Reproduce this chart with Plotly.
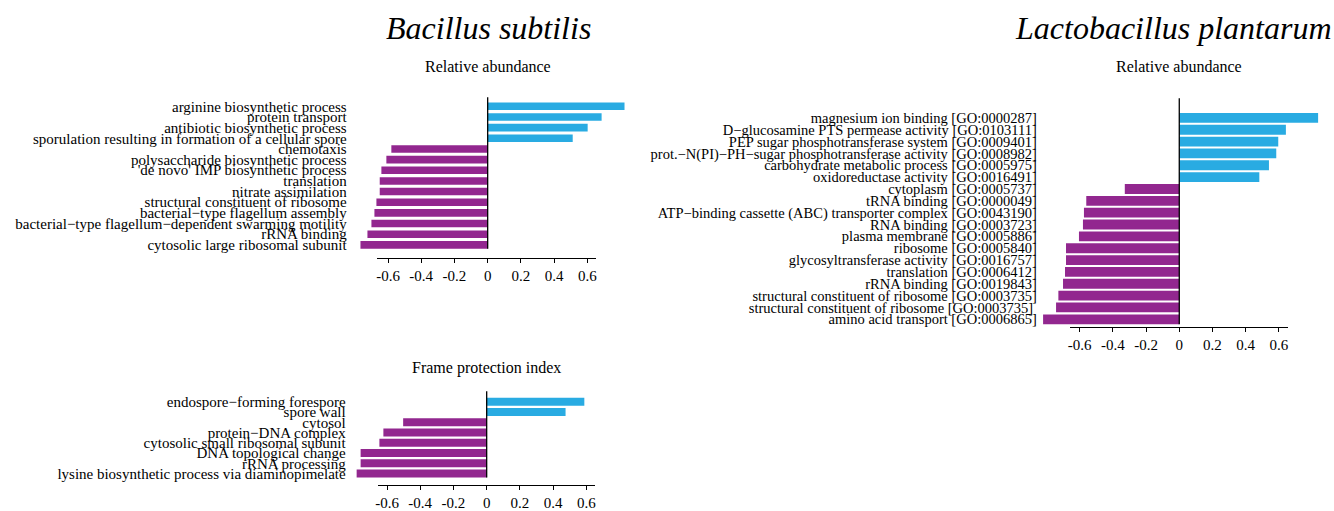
import plotly.graph_objects as go

W, H = 1334, 511

# ---- data ----
bs_abund_terms = [
    "arginine biosynthetic process",
    "protein transport",
    "antibiotic biosynthetic process",
    "sporulation resulting in formation of a cellular spore",
    "chemotaxis",
    "polysaccharide biosynthetic process",
    "'de novo' IMP biosynthetic process",
    "translation",
    "nitrate assimilation",
    "structural constituent of ribosome",
    "bacterial−type flagellum assembly",
    "bacterial−type flagellum−dependent swarming motility",
    "rRNA binding",
    "cytosolic large ribosomal subunit",
]
bs_abund_values = [0.824, 0.686, 0.602, 0.512, -0.58, -0.61, -0.64, -0.65, -0.65,
                   -0.67, -0.682, -0.70, -0.724, -0.766]

bs_fpi_terms = [
    "endospore−forming forespore",
    "spore wall",
    "cytosol",
    "protein−DNA complex",
    "cytosolic small ribosomal subunit",
    "DNA topological change",
    "rRNA processing",
    "lysine biosynthetic process via diaminopimelate",
]
bs_fpi_values = [0.588, 0.475, -0.503, -0.622, -0.646, -0.759, -0.759, -0.783]

lp_abund_terms = [
    "magnesium ion binding [GO:0000287]",
    "D−glucosamine PTS permease activity [GO:0103111]",
    "PEP sugar phosphotransferase system [GO:0009401]",
    "prot.−N(PI)−PH−sugar phosphotransferase activity [GO:0008982]",
    "carbohydrate metabolic process [GO:0005975]",
    "oxidoreductase activity [GO:0016491]",
    "cytoplasm [GO:0005737]",
    "tRNA binding [GO:0000049]",
    "ATP−binding cassette (ABC) transporter complex [GO:0043190]",
    "RNA binding [GO:0003723]",
    "plasma membrane [GO:0005886]",
    "ribosome [GO:0005840]",
    "glycosyltransferase activity [GO:0016757]",
    "translation [GO:0006412]",
    "rRNA binding [GO:0019843]",
    "structural constituent of ribosome [GO:0003735]",
    "structural constituent of ribosome [GO:0003735] ",
    "amino acid transport [GO:0006865]",
]
lp_abund_values = [0.836, 0.642, 0.596, 0.584, 0.54, 0.482, -0.328, -0.56, -0.574,
                   -0.58, -0.604, -0.682, -0.682, -0.688, -0.70, -0.728, -0.742, -0.82]

tick_vals = [-0.6, -0.4, -0.2, 0, 0.2, 0.4, 0.6]
tick_text = ["-0.6", "-0.4", "-0.2", "0", "0.2", "0.4", "0.6"]

POS = "#29ABE2"
NEG = "#92278F"
FONT = "Liberation Serif"
UNIT = 166.7  # px per unit on the value axis

fig = go.Figure()

# panel layout in pixels
panels = [
    dict(terms=bs_abund_terms, vals=bs_abund_values, x0=486.5, xmin=-0.831, xmax=0.87,
         c0=108.2, pitch=10.85, top=95, bottom=262.5, zl_top=99, gap=0.29,
         line=(-0.664, 0.65), title="Relative abundance", title_y=68, fs=15),
    dict(terms=bs_fpi_terms, vals=bs_fpi_values, x0=485.5, xmin=-0.831, xmax=0.87,
         c0=409, pitch=10.43, top=395, bottom=493.3, zl_top=398.3, gap=0.23,
         line=(-0.652, 0.654), title="Frame protection index", title_y=375, fs=15),
    dict(terms=lp_abund_terms, vals=lp_abund_values, x0=1180.7, xmin=-0.84, xmax=0.88,
         c0=120, pitch=12.06, top=95, bottom=333.3, zl_top=100, gap=0.17,
         line=(-0.66, 0.652), title="Relative abundance", title_y=68, fs=14.5),
]

for k, p in enumerate(panels):
    i = k + 1
    xa = "x" if i == 1 else f"x{i}"
    ya = "y" if i == 1 else f"y{i}"
    xo = f"x{i + 3}"  # overlay axis carrying the visible line + ticks
    n = len(p["terms"])

    def px2frac(px):
        return px / W

    left = p["x0"] + p["xmin"] * UNIT
    right = p["x0"] + p["xmax"] * UNIT
    lo_px = p["x0"] + p["line"][0] * UNIT
    hi_px = p["x0"] + p["line"][1] * UNIT

    fig.add_trace(go.Bar(
        x=p["vals"], y=p["terms"], orientation="h", width=1 - p["gap"],
        marker=dict(color=[POS if v > 0 else NEG for v in p["vals"]], line=dict(width=0)),
        xaxis=xa, yaxis=ya, showlegend=False, hoverinfo="x+y",
    ))

    yr = [(p["bottom"] - p["c0"]) / p["pitch"], (p["top"] - p["c0"]) / p["pitch"]]
    fig.layout[f"yaxis{i if i > 1 else ''}"] = dict(
        domain=[1 - p["bottom"] / H, 1 - p["top"] / H],
        range=yr, type="category", categoryorder="array", categoryarray=p["terms"],
        tickmode="linear", tick0=0, dtick=1,
        anchor=xa, showline=False, showgrid=False, zeroline=False, ticks="",
        ticklabelstandoff=2,
        tickfont=dict(family=FONT, size=p["fs"], color="#000"),
    )
    fig.layout[f"xaxis{i if i > 1 else ''}"] = dict(
        domain=[px2frac(left), px2frac(right)], range=[p["xmin"], p["xmax"]],
        anchor=ya, visible=False, showgrid=False, zeroline=False,
    )
    fig.layout[f"xaxis{i + 3}"] = dict(
        domain=[px2frac(lo_px), px2frac(hi_px)], range=list(p["line"]),
        anchor=ya, showline=True, linecolor="#000", linewidth=1,
        ticks="outside", ticklen=4, tickcolor="#000", tickwidth=1,
        tickvals=tick_vals, ticktext=tick_text, showgrid=False, zeroline=False,
        tickfont=dict(family=FONT, size=15, color="#000"),
    )
    # invisible carrier so the overlay axis is drawn
    fig.add_trace(go.Scatter(x=[0], y=[p["terms"][0]], xaxis=xo, yaxis=ya,
                             mode="markers", marker=dict(opacity=0),
                             showlegend=False, hoverinfo="skip"))

    # vertical zero line
    half = (1 - p["gap"]) / 2
    fig.add_shape(type="line", xref=xa, yref=ya, x0=0, x1=0,
                  y0=(p["zl_top"] - p["c0"]) / p["pitch"], y1=n - 1 + half,
                  line=dict(color="#000", width=1.3))

    fig.add_annotation(text=p["title"], xref="paper", yref="paper",
                       x=px2frac(p["x0"]), y=1 - p["title_y"] / H,
                       showarrow=False, xanchor="center", yanchor="middle",
                       font=dict(family=FONT, size=16, color="#000"))

# organism headers
fig.add_annotation(text="<i>Bacillus subtilis</i>", xref="paper", yref="paper",
                   x=487.5 / W, y=1 - 28 / H, showarrow=False,
                   xanchor="center", yanchor="middle",
                   font=dict(family=FONT, size=32, color="#000"))
fig.add_annotation(text="<i>Lactobacillus plantarum</i>", xref="paper", yref="paper",
                   x=1175 / W, y=1 - 28 / H, showarrow=False,
                   xanchor="center", yanchor="middle",
                   font=dict(family=FONT, size=32, color="#000"))

fig.update_layout(
    width=W, height=H, margin=dict(l=0, r=0, t=0, b=0),
    paper_bgcolor="white", plot_bgcolor="rgba(0,0,0,0)",
    showlegend=False,
)

fig.write_html("out.html")
